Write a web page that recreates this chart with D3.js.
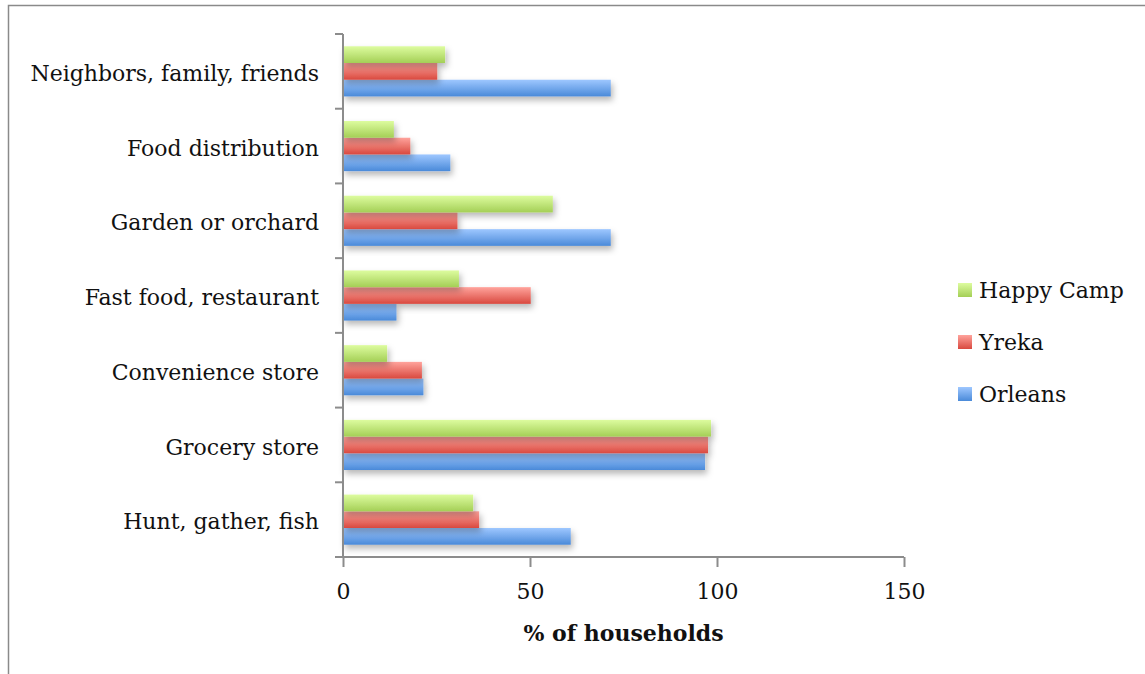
<!DOCTYPE html>
<html>
<head>
<meta charset="utf-8">
<script src="https://cdn.jsdelivr.net/npm/d3@7"></script>
<style>
  html, body { margin: 0; padding: 0; background: #fff; }
  svg { display: block; }
  text { font-family: "DejaVu Serif", "Liberation Serif", serif; fill: #111; }
</style>
</head>
<body>
<svg id="chart" width="1145" height="674"></svg>
<script>
const categories = ["Neighbors, family, friends", "Food distribution", "Garden or orchard",
  "Fast food, restaurant", "Convenience store", "Grocery store", "Hunt, gather, fish"];
const seriesNames = ["Happy Camp", "Yreka", "Orleans"];
const happyCamp = [27.3, 13.6, 56.1, 31, 11.8, 98.4, 34.8];
const yreka =     [25.2, 18.0, 30.6, 50.2, 21.1, 97.6, 36.4];
const orleans =   [71.6, 28.7, 71.6, 14.3, 21.5, 96.8, 60.9];
const xTicks = [0, 50, 100, 150];
const seriesValues = [happyCamp, yreka, orleans];
const colors = [["#ddfc9f", "#a4cf56"], ["#ffa39c", "#d9493f"], ["#9ec7ff", "#4a8ad9"]];
const FS = "22px";

const svg = d3.select("#chart");
const defs = svg.append("defs");
colors.forEach((c, i) => {
  const g = defs.append("linearGradient").attr("id", "grad" + i)
    .attr("x1", 0).attr("y1", 0).attr("x2", 0).attr("y2", 1);
  g.append("stop").attr("offset", "0%").attr("stop-color", c[0]);
  g.append("stop").attr("offset", "100%").attr("stop-color", c[1]);
});
const f = defs.append("filter").attr("id", "shadow")
  .attr("x", "-10%").attr("y", "-30%").attr("width", "130%").attr("height", "190%");
f.append("feDropShadow").attr("dx", 2).attr("dy", 4).attr("stdDeviation", 3)
  .attr("flood-color", "#000").attr("flood-opacity", 0.28);

// chart frame
svg.append("rect").attr("x", 8.5).attr("y", 5.5).attr("width", 1150).attr("height", 700)
  .attr("fill", "none").attr("stroke", "#8a8a8a").attr("stroke-width", 1.5);

const x = d3.scaleLinear().domain([0, 150]).range([343, 904]);
const y = d3.scaleBand().domain(categories).range([34, 557]).paddingInner(0).paddingOuter(0);
const ys = d3.scaleBand().domain(seriesNames).range([0, y.bandwidth()]).paddingInner(0).paddingOuter(0.735);

// bars
const rows = [];
categories.forEach((c, ci) => {
  seriesNames.forEach((s, si) => rows.push({ c, s, si, v: seriesValues[si][ci] }));
});
svg.append("g").selectAll("rect")
  .data(rows.slice().sort((a, b) => b.si - a.si))
  .join("rect")
  .attr("x", x(0))
  .attr("y", d => y(d.c) + ys(d.s))
  .attr("width", d => x(d.v) - x(0))
  .attr("height", ys.bandwidth())
  .attr("fill", d => `url(#grad${d.si})`)
  .attr("filter", "url(#shadow)");

const axisColor = "#8c8c8c";
const yAxis = svg.append("g");
yAxis.append("line").attr("x1", x(0)).attr("x2", x(0)).attr("y1", y.range()[0]).attr("y2", y.range()[1])
  .attr("stroke", axisColor).attr("stroke-width", 2);
const bounds = categories.map(c => y(c)).concat([y.range()[1]]);
yAxis.selectAll("line.t").data(bounds).join("line").attr("class", "t")
  .attr("x1", x(0) - 8).attr("x2", x(0)).attr("y1", d => d).attr("y2", d => d)
  .attr("stroke", axisColor).attr("stroke-width", 2);
yAxis.selectAll("text").data(categories).join("text")
  .attr("x", 319).attr("y", d => y(d) + y.bandwidth() / 2 + 2)
  .attr("dy", "0.35em").attr("text-anchor", "end")
  .style("font-size", FS).text(d => d);

const xAxis = svg.append("g").attr("transform", `translate(0,${y.range()[1]})`)
  .call(d3.axisBottom(x).tickValues(xTicks).tickSize(10).tickPadding(16).tickFormat(d3.format("d")));
xAxis.select(".domain").attr("stroke", axisColor).attr("stroke-width", 2)
  .attr("d", `M${x(0) - 3},0H${x(150)}`);
xAxis.selectAll(".tick line").attr("stroke", axisColor).attr("stroke-width", 2);
xAxis.selectAll(".tick text").style("font-size", FS)
  .style("font-family", '"DejaVu Serif", "Liberation Serif", serif').attr("fill", "#111");

svg.append("text").attr("x", (x(0) + x(150)) / 2).attr("y", 641)
  .attr("text-anchor", "middle").style("font-size", FS).style("font-weight", "bold")
  .text("% of households");

const legend = svg.append("g");
seriesNames.forEach((s, i) => {
  const cy = 290 + i * 52;
  legend.append("rect").attr("x", 958).attr("y", cy - 7).attr("width", 14).attr("height", 14)
    .attr("fill", `url(#grad${i})`);
  legend.append("text").attr("x", 979).attr("y", cy).attr("dy", "0.35em")
    .style("font-size", FS).text(s);
});
</script>
</body>
</html>
